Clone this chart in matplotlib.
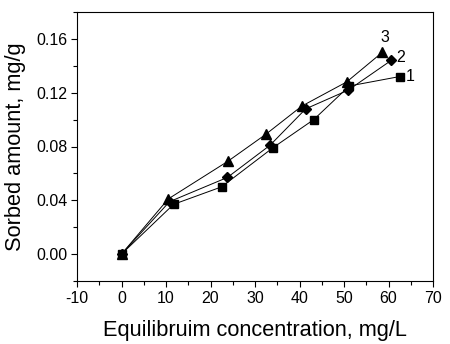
import matplotlib
matplotlib.use("Agg")
import matplotlib.pyplot as plt
from matplotlib.ticker import MultipleLocator, FormatStrFormatter

plt.rcParams['font.family'] = ['Liberation Sans', 'DejaVu Sans']
plt.rcParams['axes.unicode_minus'] = False

# Sorption isotherms: equilibrium concentration (mg/L) vs sorbed amount (mg/g)
x1 = [0, 11.7, 22.5, 34.0, 43.2, 51.2, 62.5]
y1 = [0.000, 0.037, 0.050, 0.079, 0.100, 0.125, 0.132]
x2 = [0, 10.8, 23.8, 33.4, 41.4, 51.0, 60.6]
y2 = [0.000, 0.039, 0.057, 0.081, 0.108, 0.122, 0.144]
x3 = [0, 10.5, 23.9, 32.4, 40.5, 50.6, 58.6]
y3 = [0.000, 0.041, 0.069, 0.089, 0.110, 0.128, 0.150]
labels = ["1", "2", "3"]

fig = plt.figure(figsize=(4.5, 3.44), dpi=100)
ax = fig.add_axes([77/450, 1 - 281/344, (433-77)/450, (281-12)/344])

ax.plot(x1, y1, '-s', color='black', lw=0.7, ms=5.8)
ax.plot(x2, y2, '-D', color='black', lw=0.7, ms=5)
ax.plot(x3, y3, '-^', color='black', lw=0.7, ms=7)

ax.text(x1[-1] + 1.3, y1[-1], labels[0], fontsize=11.5, va='center', ha='left')
ax.text(x2[-1] + 1.2, y2[-1] + 0.002, labels[1], fontsize=11.5, va='center', ha='left')
ax.text(x3[-1] + 0.5, y3[-1] + 0.011, labels[2], fontsize=11.5, va='center', ha='center')

ax.set_xlim(-10, 70)
ax.set_ylim(-0.02, 0.18)
ax.xaxis.set_major_locator(MultipleLocator(10))
ax.xaxis.set_minor_locator(MultipleLocator(5))
ax.yaxis.set_major_locator(MultipleLocator(0.04))
ax.yaxis.set_minor_locator(MultipleLocator(0.02))
ax.yaxis.set_major_formatter(FormatStrFormatter('%.2f'))
ax.tick_params(which='both', direction='out', width=0.8, labelsize=11.5, colors='black')
ax.tick_params(which='major', length=4, pad=3)
ax.tick_params(which='minor', length=3)
for s in ax.spines.values():
    s.set_linewidth(0.8)

ax.set_xlabel("Equilibruim concentration, mg/L", fontsize=15.7, labelpad=10)
ax.set_ylabel("Sorbed amount, mg/g", fontsize=15.7, labelpad=7)

fig.savefig("out.png", dpi=100)
